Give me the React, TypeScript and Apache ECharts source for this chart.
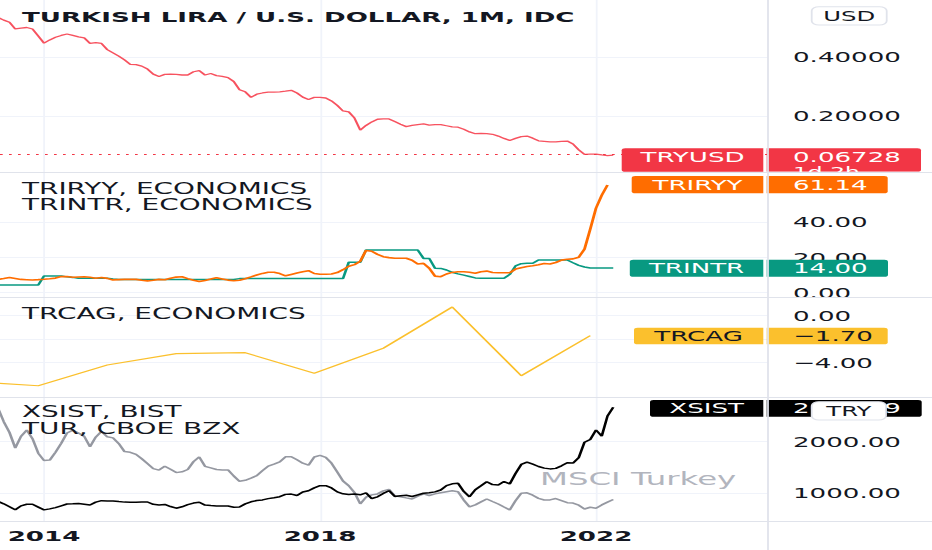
import React, { useEffect, useRef } from "react";
import * as echarts from "echarts";

// The reference picture is horizontally stretched; the chart is drawn narrow and stretched back.
const K = 1.8;
const PAGE_W = 932;
const PAGE_H = 550;
const CW = PAGE_W / K;
const sx = (x: number) => x / K;

const FONT = '"DejaVu Sans", sans-serif';
const INK = "#131722";
const GRID_LINE = "#f0f3fa";
const SEP = "#e0e3eb";

// x axis: months counted from January 2014 (May 2013 = -8)
const firstMonth = -8;
const xMin = -7.652;
const xMax = 125.913;
const yearTicks = [0, 48, 96];
const yearLabels = ["2014", "2018", "2022"];

// TRYUSD monthly, May 2013 .. Apr 2022
const tryusd = [
  0.534, 0.525, 0.518, 0.495, 0.498, 0.5, 0.495, 0.471,
  0.447, 0.458, 0.467, 0.473, 0.478, 0.473, 0.468, 0.465, 0.446, 0.449, 0.446, 0.425,
  0.414, 0.403, 0.39, 0.375, 0.374, 0.369, 0.359, 0.342, 0.334, 0.341, 0.342, 0.341,
  0.339, 0.339, 0.35, 0.354, 0.339, 0.344, 0.337, 0.334, 0.33, 0.317, 0.289, 0.282,
  0.263, 0.274, 0.278, 0.281, 0.281, 0.282, 0.284, 0.287, 0.278, 0.264, 0.256, 0.263,
  0.263, 0.261, 0.251, 0.236, 0.217, 0.214, 0.193, 0.152, 0.168, 0.18, 0.189, 0.19,
  0.19, 0.181, 0.172, 0.164, 0.168, 0.171, 0.173, 0.169, 0.171, 0.171, 0.167, 0.163,
  0.162, 0.155, 0.146, 0.14, 0.141, 0.14, 0.138, 0.132, 0.124, 0.117, 0.124, 0.13,
  0.132, 0.125, 0.116, 0.114, 0.112, 0.112, 0.114, 0.115, 0.105, 0.085, 0.07, 0.071,
  0.071, 0.068, 0.066, 0.06728,
];

// TRIRYY (inflation y/y, %), May 2013 .. Mar 2022
const triryy = [
  7.5, 8.07, 8.69, 8.13, 7.56, 7.39, 7.22, 7.44,
  7.67, 7.95, 8.3, 9.15, 9.2, 8.81, 8.92, 9.03, 8.75, 8.24, 8.64, 8.13,
  7.27, 7.44, 7.56, 7.67, 7.56, 7.05, 6.7, 7.1, 7.56, 7.33, 8.18, 8.86,
  9.09, 8.01, 7.1, 6.31, 6.99, 7.73, 8.52, 7.84, 7.16, 6.82, 7.1, 7.95,
  8.98, 10.06, 10.97, 11.59, 11.59, 10.85, 9.6, 10.4, 11.19, 11.88, 12.5, 10.91,
  10.45, 10.45, 10.63, 11.42, 13.07, 15.06, 15.97, 17.9, 24.03, 23.58, 21.76, 20.45,
  19.94, 19.55, 19.55, 19.55, 18.47, 16.31, 16.65, 13.86, 9.43, 9.09, 10.63, 11.53,
  11.93, 11.93, 11.65, 11.08, 11.93, 12.27, 11.48, 11.36, 11.36, 11.36, 13.41, 14.2,
  14.83, 15.34, 15.91, 16.59, 16.31, 17.16, 18.52, 18.98, 19.2, 20.17, 24.77, 36.14,
  48.07, 55.4, 61.14,
];

// TRINTR (policy rate, %), May 2013 .. Apr 2022
const trintr = [
  4.4, 4.4, 4.4, 4.4, 4.4, 4.4, 4.4, 4.4,
  9.5, 9.5, 9.5, 9.5, 9.0, 8.7, 8.2, 8.2, 8.2, 8.2, 8.2, 8.2,
  7.8, 7.5, 7.5, 7.5, 7.5, 7.5, 7.5, 7.5, 7.5, 7.5, 7.5, 7.5,
  7.5, 7.5, 7.5, 7.5, 7.5, 7.5, 7.5, 7.5, 7.5, 7.5, 8.0, 8.0,
  8.0, 8.0, 8.0, 8.0, 8.0, 8.0, 8.0, 8.0, 8.0, 8.0, 8.0, 8.0,
  8.0, 8.0, 8.0, 8.0, 8.0, 17.3, 17.3, 17.3, 24.3, 24.3, 24.3, 24.3,
  24.3, 24.3, 24.3, 24.3, 24.3, 24.3, 19.5, 19.5, 13.9, 13.8, 12.9, 11.6,
  10.7, 10.0, 9.2, 8.4, 8.2, 8.2, 8.2, 8.2, 8.2, 10.4, 15.2, 16.5,
  16.7, 16.7, 18.6, 18.6, 18.6, 18.6, 18.6, 18.6, 17.0, 15.5, 14.6, 14.0,
  14.0, 14.0, 14.0, 14.0,
];

// TRCAG (current account, % of GDP), yearly at December
const trcagMonths = [-13, -1, 11, 23, 35, 47, 59, 71, 83, 95];
const trcag = [-5.59, -5.96, -4.2, -3.23, -3.15, -4.9, -2.77, 0.74, -5.11, -1.7];

// TUR (MSCI Turkey ETF, scaled) monthly, May 2013 .. Apr 2022
const tur = [
  2653, 2388, 2178, 1878, 2103, 2225, 2058, 1777,
  1636, 1643, 1795, 1969, 2169, 2223, 2169, 2103, 1903, 2089, 2198, 2095,
  2074, 1965, 1808, 1795, 1754, 1669, 1574, 1477, 1450, 1525, 1467, 1401,
  1417, 1461, 1614, 1705, 1523, 1492, 1461, 1452, 1452, 1335, 1233, 1252,
  1293, 1341, 1438, 1527, 1564, 1607, 1707, 1709, 1649, 1583, 1545, 1704,
  1735, 1696, 1583, 1413, 1238, 1147, 1014, 795, 924, 969, 988, 1047,
  1076, 953, 934, 911, 890, 946, 990, 957, 988, 1010, 1031, 1048,
  1031, 868, 736, 775, 833, 890, 841, 793, 735, 678, 855, 1002,
  1010, 963, 901, 870, 872, 899, 859, 818, 810, 769, 696, 729,
  711, 775, 829, 880,
];

// XSIST (BIST, TRY) monthly, May 2013 .. Apr 2022
const xsist = [
  841, 797, 740, 680, 756, 787, 787, 733,
  678, 698, 723, 758, 793, 798, 804, 789, 773, 829, 857, 853,
  851, 839, 829, 826, 826, 831, 831, 787, 775, 785, 744, 711,
  738, 779, 810, 826, 771, 762, 754, 754, 754, 731, 733, 795,
  835, 859, 872, 897, 915, 934, 979, 985, 957, 1025, 1050, 1105,
  1147, 1147, 1103, 1027, 990, 975, 986, 971, 1008, 899, 932, 998,
  1050, 940, 952, 961, 938, 969, 1000, 1010, 1027, 1064, 1149, 1184,
  1194, 1035, 932, 1068, 1145, 1225, 1169, 1161, 1227, 1182, 1382, 1560,
  1605, 1564, 1519, 1488, 1473, 1483, 1533, 1593, 1585, 1690, 1990, 2043,
  2227, 2110, 2498, 2667.39,
];

// panes: [top, height] in px, axis extents, grid-line values and label values
const paneRows = [
  [0, 172],
  [173, 124],
  [298, 99],
  [398, 123],
];
const paneRanges = [
  [0.01017, 0.59322],
  [-2.443, 68.01],
  [-6.919, 1.506],
  [463, 2847],
];
const paneTicks = [
  [0.2, 0.4],
  [0, 20, 40],
  [-4, -2, 0],
  [1000, 2000],
];
// the -2.00 label sits behind the TRCAG badge in the reference
const paneLabels = [
  [0.2, 0.4],
  [0, 20, 40],
  [-4, 0],
  [1000, 2000],
];

const signed = (v: number, d: number) => (v < 0 ? "\u2212" : "") + Math.abs(v).toFixed(d);
const paneFormat = [
  (v: number) => v.toFixed(5),
  (v: number) => signed(v, 2),
  (v: number) => signed(v, 2),
  (v: number) => v.toFixed(2),
];

const pairs = (vals: number[], start: number) => vals.map((v, i) => [start + i, v]);
const last = (a: number[]) => a[a.length - 1];

function buildOption(): any {
  const grids = paneRows.map(([top, height]) => ({ left: 0, top, width: sx(768), height }));
  const xAxes = paneRows.map((_, i) => ({
    type: "value",
    gridIndex: i,
    min: xMin,
    max: xMax,
    axisLine: { show: false },
    axisTick: { show: false, customValues: yearTicks },
    axisLabel: {
      show: i === 3,
      customValues: yearTicks,
      formatter: (v: number) => {
        const k = yearTicks.indexOf(Math.round(v));
        return k >= 0 ? yearLabels[k] : "";
      },
      color: INK,
      fontFamily: FONT,
      fontWeight: "bold",
      fontSize: 14.5,
      margin: 7,
    },
    splitLine: { show: true, lineStyle: { color: GRID_LINE, width: 1 } },
  }));
  const yAxes = paneRows.map((_, i) => ({
    type: "value",
    gridIndex: i,
    position: "right",
    min: paneRanges[i][0],
    max: paneRanges[i][1],
    axisLine: { show: false },
    axisTick: { show: false, customValues: paneTicks[i] },
    axisLabel: {
      customValues: paneLabels[i],
      formatter: paneFormat[i],
      color: INK,
      fontFamily: FONT,
      fontSize: 14.5,
      margin: sx(25),
      align: "left",
    },
    splitLine: { show: true, lineStyle: { color: GRID_LINE, width: 1 } },
  }));
  const line = (name: string, gi: number, data: any[], color: string, width: number) => ({
    type: "line",
    name,
    xAxisIndex: gi,
    yAxisIndex: gi,
    data,
    symbol: "none",
    showSymbol: false,
    silent: true,
    emphasis: { disabled: true },
    lineStyle: { color, width },
    itemStyle: { color },
    z: 3,
  });
  const tryLine: any = line("TRYUSD", 0, pairs(tryusd, firstMonth), "#f7525f", 1.3);
  tryLine.markLine = {
    silent: true,
    symbol: ["none", "none"],
    label: { show: false },
    lineStyle: { color: "#f23645", type: [1.5, 3.5], width: 1 },
    data: [{ yAxis: last(tryusd) }],
  };
  return {
    animation: false,
    backgroundColor: "#ffffff",
    grid: grids,
    xAxis: xAxes,
    yAxis: yAxes,
    series: [
      tryLine,
      line("TRINTR", 1, pairs(trintr, firstMonth), "#089981", 1.5),
      line("TRIRYY", 1, pairs(triryy, firstMonth), "#ff6d00", 1.6),
      line("TRCAG", 2, trcagMonths.map((m, i) => [m, trcag[i]]), "#fbc02d", 1.2),
      line("TUR", 3, pairs(tur, firstMonth), "#9598a1", 1.5),
      line("XSIST", 3, pairs(xsist, firstMonth), "#000000", 1.5),
    ],
  };
}

function txt(x: number, y: number, text: string, opts: any = {}) {
  return {
    type: "text",
    x,
    y,
    z: opts.z ?? 101,
    silent: true,
    style: {
      text,
      fill: opts.fill ?? INK,
      fontSize: opts.size ?? 14.5,
      fontFamily: FONT,
      fontWeight: opts.weight ?? "normal",
      align: opts.align ?? "left",
      verticalAlign: "middle",
      textAlign: opts.align ?? "left",
      textVerticalAlign: "middle",
    },
  };
}

function badge(label: string, value: string, top: number, h: number, textY: number, leftX: number, rightEnd: number, bg: string, fg: string) {
  return [
    { type: "rect", z: 100, silent: true, shape: { x: sx(leftX), y: top, width: sx(763.3 - leftX), height: h, r: [2, 0, 0, 2] }, style: { fill: bg } },
    { type: "rect", z: 100, silent: true, shape: { x: sx(766.7), y: top, width: sx(rightEnd - 766.7), height: h, r: [0, 2, 2, 0] }, style: { fill: bg } },
    txt(sx((leftX + 763.3) / 2), textY, label, { fill: fg, align: "center" }),
    txt(sx(793), textY, value, { fill: fg }),
  ];
}

function buildGraphics(chart: any): any[] {
  const yOf = (axis: number, v: number) => chart.convertToPixel({ yAxisIndex: axis }, v) as number;
  const yTry = yOf(0, last(tryusd));
  const yIry = yOf(1, last(triryy));
  const yNtr = yOf(1, last(trintr));
  const yCag = yOf(2, last(trcag));
  const yXs = yOf(3, last(xsist));
  const els: any[] = [];

  // title and pane legends
  els.push(txt(sx(22), 16.5, "TURKISH LIRA / U.S. DOLLAR, 1M, IDC", { weight: "bold", size: 14.5 }));
  els.push(txt(sx(22), 189, "TRIRYY, ECONOMICS", { size: 15.5 }));
  els.push(txt(sx(22), 205, "TRINTR, ECONOMICS", { size: 15.5 }));
  els.push(txt(sx(22), 313.5, "TRCAG, ECONOMICS", { size: 15.5 }));
  els.push(txt(sx(22), 411.5, "XSIST, BIST", { size: 15.5 }));
  els.push(txt(sx(22), 428.5, "TUR, CBOE BZX", { size: 15.5 }));
  els.push(txt(sx(540), 479, "MSCI Turkey", { size: 18, fill: "#b2b5be", z: 1 }));

  // last-value badges
  els.push(...badge("TRYUSD", last(tryusd).toFixed(5), yTry - 6.9, 23.4, yTry + 1.5, 621.7, 921, "#f23645", "#ffffff"));
  els.push(txt(sx(793), yTry + 16.5, "1d 2h", { fill: "#ffffff", size: 13 }));
  els.push({ type: "rect", z: 102, silent: true, shape: { x: sx(766), y: yTry + 16.6, width: sx(166), height: 4.2 }, style: { fill: "#ffffff" } });
  els.push(...badge("TRIRYY", last(triryy).toFixed(2), yIry - 9, 17.2, yIry - 0.5, 631.7, 887.7, "#ff6d00", "#ffffff"));
  els.push(...badge("TRINTR", last(trintr).toFixed(2), yNtr - 8.2, 16.8, yNtr + 0.2, 629.8, 888, "#089981", "#ffffff"));
  els.push(...badge("TRCAG", signed(last(trcag), 2), yCag - 8, 16.6, yCag + 0.3, 634, 887.7, "#fbc02d", INK));
  els.push(...badge("XSIST", last(xsist).toFixed(2), yXs - 7.3, 16.8, yXs + 1, 650, 921.7, "#000000", "#ffffff"));

  // currency buttons
  const button = (y: number, w: number, label: string) => [
    { type: "rect", z: 110, silent: true, shape: { x: sx(811.7), y, width: sx(w), height: 18.3, r: 4 }, style: { fill: "#ffffff", stroke: SEP, lineWidth: 1 } },
    txt(sx(811.7 + w / 2), y + 9.4, label, { size: 13.5, align: "center", z: 111 }),
  ];
  els.push(...button(6.7, 75, "USD"));
  els.push(...button(401.7, 74.3, "TRY"));

  // pane separators
  [172.5, 297.5, 397.5, 521.5].forEach((y) =>
    els.push({ type: "line", z: 103, silent: true, shape: { x1: 0, y1: y, x2: CW, y2: y }, style: { stroke: SEP, lineWidth: 1.2 } })
  );
  els.push({ type: "line", z: 103, silent: true, shape: { x1: sx(768), y1: 0, x2: sx(768), y2: PAGE_H }, style: { stroke: SEP, lineWidth: 1 } });
  return els;
}

export default function App() {
  const ref = useRef<HTMLDivElement>(null);
  useEffect(() => {
    const el = ref.current;
    if (!el) return;
    const chart = echarts.init(el, null, { renderer: "svg" });
    chart.setOption(buildOption());
    chart.setOption({ graphic: { elements: buildGraphics(chart) } });
    return () => chart.dispose();
  }, []);
  return (
    <div
      ref={ref}
      style={{
        position: "fixed",
        left: 0,
        top: 0,
        width: CW,
        height: PAGE_H,
        transform: `scaleX(${K})`,
        transformOrigin: "0 0",
        background: "#ffffff",
      }}
    />
  );
}
